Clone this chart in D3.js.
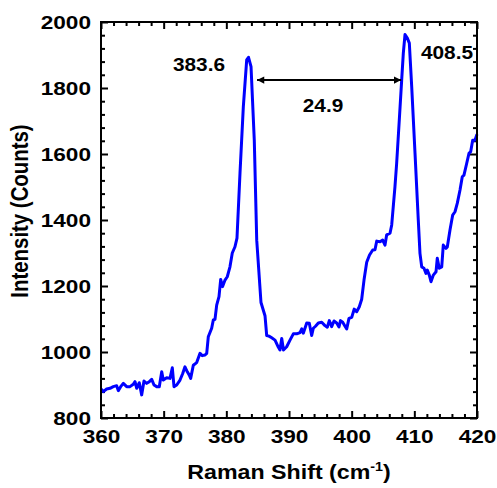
<!DOCTYPE html>
<html>
<head>
<meta charset="utf-8">
<script src="https://cdn.jsdelivr.net/npm/d3@7"></script>
<style>
  html, body { margin: 0; padding: 0; background: #fff; }
  svg { display: block; font-family: "Liberation Sans", Arial, sans-serif; }
  .tick text { font-weight: bold; }
</style>
</head>
<body>
<svg id="chart" width="497" height="488"></svg>
<script>
// Raman spectrum: shift (cm^-1) and intensity (counts)
const shift = [
  360.0, 360.37, 360.9, 361.44, 361.96, 362.5, 362.76, 363.14, 363.56, 364.1,
  364.63, 365.15, 365.43, 365.7, 366.11, 366.49, 366.86, 367.29, 367.71, 368.09,
  368.46, 368.89, 369.3, 369.69, 369.94, 370.48, 371.01, 371.38, 371.65, 372.08,
  372.61, 373.04, 373.4, 373.77, 374.09, 374.31, 374.73, 375.27, 375.8, 376.16,
  376.6, 376.87, 377.12, 377.66, 377.92, 378.19, 378.46, 378.83, 379.1, 379.39,
  379.79, 380.15, 380.58, 380.95, 381.38, 381.7, 382.18, 382.71, 383.25, 383.54,
  383.94, 384.46, 384.85, 385.53, 386.17, 386.44, 386.8, 387.24, 387.77, 388.29,
  388.56, 388.84, 389.12, 389.63, 390.16, 390.69, 391.23, 391.76, 392.03, 392.28,
  392.83, 393.24, 393.62, 393.88, 394.23, 394.68, 395.22, 395.74, 396.11, 396.43,
  396.81, 397.18, 397.61, 397.98, 398.22, 398.57, 398.94, 399.21, 399.57, 400.01,
  400.4, 400.8, 401.22, 401.6, 401.97, 402.4, 402.85, 403.36, 403.72, 404.0,
  404.52, 404.95, 405.32, 405.59, 406.12, 406.39, 406.91, 407.18, 407.6, 407.98,
  408.24, 408.51, 408.88, 409.2, 409.58, 410.11, 410.63, 410.9, 411.18, 411.54,
  411.86, 412.07, 412.39, 412.66, 413.03, 413.46, 413.66, 413.98, 414.37, 414.62,
  415.05, 415.26, 415.69, 416.12, 416.49, 416.86, 417.29, 417.65, 417.92, 418.36,
  418.72, 418.99, 419.31, 419.68, 420.0
];
const counts = [
  888, 880, 888, 890, 895, 898, 883, 895, 905, 895,
  895, 902, 910, 890, 907, 870, 912, 905, 910, 917,
  900, 895, 895, 940, 915, 922, 920, 952, 895, 900,
  915, 935, 955, 940, 930, 920, 960, 968, 996, 989,
  991, 996, 1046, 1072, 1097, 1099, 1142, 1168, 1220, 1198,
  1218, 1228, 1258, 1300, 1319, 1345, 1542, 1743, 1885, 1893,
  1865, 1642, 1339, 1150, 1110, 1050, 1048, 1043, 1036, 1015,
  1006, 1041, 1006, 1016, 1036, 1055, 1055, 1059, 1070, 1057,
  1088, 1087, 1050, 1072, 1078, 1088, 1090, 1080, 1075, 1095,
  1077, 1094, 1088, 1076, 1095, 1090, 1078, 1070, 1102, 1105,
  1130, 1122, 1137, 1160, 1218, 1272, 1294, 1309, 1310, 1336,
  1334, 1339, 1324, 1355, 1360, 1385, 1501, 1572, 1703, 1824,
  1905, 1962, 1951, 1936, 1804, 1602, 1400, 1299, 1258, 1254,
  1238, 1248, 1233, 1213, 1233, 1243, 1284, 1254, 1258, 1324,
  1314, 1318, 1370, 1415, 1425, 1451, 1491, 1531, 1536, 1572,
  1602, 1607, 1642, 1642, 1660
];

// Axis ticks
const xTicks = [360, 370, 380, 390, 400, 410, 420];
const yTicks = [800, 1000, 1200, 1400, 1600, 1800, 2000];
const xMinorStep = 2;
const yMinorStep = 40;

// Peak annotations (label anchor in data units)
const peakLabels = [
  { text: "383.6", x: 375.64, y: 1851 },
  { text: "408.5", x: 415.21, y: 1888 }
];
const separation = { text: "24.9", from: 384.9, to: 407.9, y: 1824, labelX: 395.43, labelY: 1727 };

// Text is drawn slightly wide
const WIDE = 1.19;

const svg = d3.select("#chart");
const margin = { left: 101, top: 22, right: 20, bottom: 70 };
const W = 497, H = 488;
const iw = W - margin.left - margin.right;
const ih = H - margin.top - margin.bottom;

const x = d3.scaleLinear().domain([360, 420]).range([0, iw]);
const y = d3.scaleLinear().domain([800, 2000]).range([ih, 0]);

const g = svg.append("g").attr("transform", `translate(${margin.left},${margin.top})`);

const minorX = d3.range(360, 420.001, xMinorStep).filter(v => !xTicks.includes(Math.round(v)));
const minorY = d3.range(800, 2000.001, yMinorStep).filter(v => !yTicks.includes(Math.round(v)));

function widen(sel) {
  sel.each(function () {
    const w = this.getComputedTextLength();
    this.setAttribute("textLength", w * WIDE);
    this.setAttribute("lengthAdjust", "spacingAndGlyphs");
  });
}

function styleAxis(sel) {
  sel.selectAll(".domain").remove();
  sel.selectAll(".tick line").attr("stroke", "#000").attr("stroke-width", 2);
  sel.selectAll(".tick text").attr("fill", "#000").attr("font-size", 19).call(widen);
}

// Bottom axis with labels
g.append("g").attr("transform", `translate(0,${ih})`)
  .call(d3.axisBottom(x).tickValues(xTicks).tickSizeInner(-7).tickSizeOuter(0).tickPadding(12).tickFormat(d3.format("d")))
  .call(styleAxis);
g.append("g").attr("transform", `translate(0,${ih})`)
  .call(d3.axisBottom(x).tickValues(minorX).tickSizeInner(-4).tickSizeOuter(0).tickFormat(""))
  .call(styleAxis);
// Top axis
g.append("g")
  .call(d3.axisTop(x).tickValues(xTicks).tickSizeInner(-7).tickSizeOuter(0).tickFormat(""))
  .call(styleAxis);
g.append("g")
  .call(d3.axisTop(x).tickValues(minorX).tickSizeInner(-4).tickSizeOuter(0).tickFormat(""))
  .call(styleAxis);
// Left axis with labels
g.append("g")
  .call(d3.axisLeft(y).tickValues(yTicks).tickSizeInner(-7).tickSizeOuter(0).tickPadding(10).tickFormat(d3.format("d")))
  .call(styleAxis);
g.append("g")
  .call(d3.axisLeft(y).tickValues(minorY).tickSizeInner(-4).tickSizeOuter(0).tickFormat(""))
  .call(styleAxis);
// Right axis
g.append("g").attr("transform", `translate(${iw},0)`)
  .call(d3.axisRight(y).tickValues(yTicks).tickSizeInner(-7).tickSizeOuter(0).tickFormat(""))
  .call(styleAxis);
g.append("g").attr("transform", `translate(${iw},0)`)
  .call(d3.axisRight(y).tickValues(minorY).tickSizeInner(-4).tickSizeOuter(0).tickFormat(""))
  .call(styleAxis);

// Spectrum line
const data = shift.map((s, i) => ({ s, c: counts[i] }));
g.append("path")
  .datum(data)
  .attr("fill", "none")
  .attr("stroke", "#0000ff")
  .attr("stroke-width", 3)
  .attr("stroke-linejoin", "round")
  .attr("d", d3.line().x(d => x(d.s)).y(d => y(d.c)));

// Frame
g.append("rect")
  .attr("x", 0).attr("y", 0).attr("width", iw).attr("height", ih)
  .attr("fill", "none").attr("stroke", "#000").attr("stroke-width", 2);

// Peak labels
g.selectAll(".peak")
  .data(peakLabels)
  .join("text")
  .attr("class", "peak")
  .attr("transform", d => `translate(${x(d.x)},${y(d.y)}) scale(${WIDE},1)`)
  .attr("text-anchor", "middle")
  .attr("font-size", 17.5)
  .attr("font-weight", "bold")
  .attr("fill", "#000")
  .text(d => d.text);

// Double-headed arrow between the peaks
const defs = svg.append("defs");
defs.append("marker")
  .attr("id", "head")
  .attr("viewBox", "0 0 10 10")
  .attr("refX", 10).attr("refY", 5)
  .attr("markerWidth", 5).attr("markerHeight", 3.6)
  .attr("markerUnits", "strokeWidth")
  .attr("orient", "auto-start-reverse")
  .append("path").attr("d", "M0,0 L10,5 L0,10 Z").attr("fill", "#000");

g.append("line")
  .attr("x1", x(separation.from)).attr("x2", x(separation.to))
  .attr("y1", y(separation.y)).attr("y2", y(separation.y))
  .attr("stroke", "#000").attr("stroke-width", 2)
  .attr("marker-start", "url(#head)").attr("marker-end", "url(#head)");

g.append("text")
  .attr("transform", `translate(${x(separation.labelX)},${y(separation.labelY)}) scale(${WIDE},1)`)
  .attr("text-anchor", "middle")
  .attr("font-size", 17.5)
  .attr("font-weight", "bold")
  .attr("fill", "#000")
  .text(separation.text);

// Axis titles
const xt = svg.append("text")
  .attr("transform", `translate(${margin.left + iw / 2},479) scale(${WIDE},1)`)
  .attr("text-anchor", "middle")
  .attr("font-size", 19.5)
  .attr("font-weight", "bold")
  .attr("fill", "#000");
xt.append("tspan").text("Raman Shift (cm");
xt.append("tspan").attr("font-size", 12).attr("dy", -8).text("-1");
xt.append("tspan").attr("dy", 8).text(")");

svg.append("text")
  .attr("transform", `translate(28,211) scale(${WIDE},1) rotate(-90)`)
  .attr("text-anchor", "middle")
  .attr("font-size", 20.4)
  .attr("font-weight", "bold")
  .attr("fill", "#000")
  .text("Intensity (Counts)");
</script>
</body>
</html>
